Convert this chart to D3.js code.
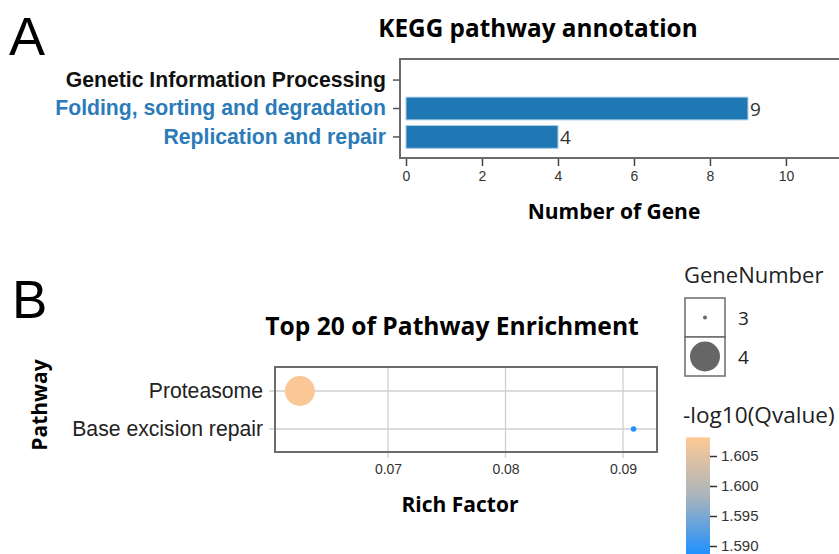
<!DOCTYPE html>
<html>
<head>
<meta charset="utf-8">
<script src="https://cdn.jsdelivr.net/npm/d3@7"></script>
<style>
  body { margin: 0; background: #fff; }
  svg { display: block; }
</style>
</head>
<body>
<svg id="svg" width="839" height="554"></svg>
<script>
// panel A data
var keggCats = ["Genetic Information Processing", "Folding, sorting and degradation", "Replication and repair"];
var keggCounts = [null, 9, 4];
var keggColors = ["#111", "#2b7bb9", "#2b7bb9"];
var keggTicks = [0, 2, 4, 6, 8, 10];

// panel B data
var pathNames = ["Proteasome", "Base excision repair"];
var richFactor = [0.0625, 0.0909];
var geneNumber = [4, 3];
var qLog = [1.6075, 1.5885];
var richTicks = [0.07, 0.08, 0.09];
var sizeLegend = [3, 4];
var colorTicks = [1.605, 1.600, 1.595, 1.590];

var svg = d3.select("#svg");
var titleFont = "'Open Sans', 'Noto Sans', sans-serif";
var arial = "'Liberation Sans', Arial, sans-serif";

function panelA() {
  svg.append("text").attr("x", 9).attr("y", 55).text("A")
    .style("font-family", arial).style("font-size", "54px").attr("fill", "#000");

  svg.append("text").attr("x", 538).attr("y", 37).attr("text-anchor", "middle")
    .text("KEGG pathway annotation")
    .style("font-family", titleFont).style("font-weight", "bold").style("font-size", "24.3px");

  var xA = d3.scaleLinear().domain([0, 11.37]).range([406, 838]);
  var yA = d3.scaleBand().domain(keggCats).range([63, 154]).padding(0.2);

  svg.append("rect").attr("x", 400).attr("y", 59).attr("width", 440).attr("height", 99)
    .attr("fill", "none").attr("stroke", "#6b6b6b").attr("stroke-width", 2);

  keggCats.forEach((c, i) => {
    if (keggCounts[i] != null) {
      svg.append("rect")
        .attr("x", xA(0)).attr("y", yA(c))
        .attr("width", xA(keggCounts[i]) - xA(0)).attr("height", yA.bandwidth())
        .attr("fill", "#1f77b4").attr("stroke", "#a9cbe6").attr("stroke-width", 1);
      svg.append("text")
        .attr("x", xA(keggCounts[i]) + 2).attr("y", yA(c) + yA.bandwidth() / 2 + 7)
        .text(keggCounts[i])
        .style("font-family", titleFont).style("font-size", "19px").attr("fill", "#333");
    }
  });

  var yAxisA = svg.append("g").attr("transform", "translate(400,0)")
    .call(d3.axisLeft(yA).tickSize(7).tickPadding(7));
  yAxisA.select(".domain").remove();
  yAxisA.selectAll("line").attr("stroke", "#555").attr("stroke-width", 1.5);
  yAxisA.selectAll("text")
    .style("font-family", arial).style("font-weight", "bold").style("font-size", "21.2px")
    .attr("fill", (d, i) => keggColors[i]);

  var xAxisA = svg.append("g").attr("transform", "translate(0,159)")
    .call(d3.axisBottom(xA).tickValues(keggTicks).tickSize(7).tickPadding(5));
  xAxisA.select(".domain").remove();
  xAxisA.selectAll("line").attr("stroke", "#444").attr("stroke-width", 1.5);
  xAxisA.selectAll("text").style("font-family", arial).style("font-size", "14px").attr("fill", "#333");

  svg.append("text").attr("x", 614).attr("y", 219).attr("text-anchor", "middle")
    .text("Number of Gene")
    .style("font-family", titleFont).style("font-weight", "bold").style("font-size", "21px");
}

function panelB() {
  svg.append("text").attr("x", 12).attr("y", 318).text("B")
    .style("font-family", arial).style("font-size", "53px").attr("fill", "#000");

  svg.append("text").attr("x", 452).attr("y", 335).attr("text-anchor", "middle")
    .text("Top 20 of Pathway Enrichment")
    .style("font-family", titleFont).style("font-weight", "bold").style("font-size", "24.6px");

  svg.append("text").attr("transform", "translate(47,405) rotate(-90)").attr("text-anchor", "middle")
    .text("Pathway")
    .style("font-family", titleFont).style("font-weight", "bold").style("font-size", "21px");

  var xB = d3.scaleLinear().domain([0.07, 0.09]).range([388, 623]);
  var yB = d3.scalePoint().domain(pathNames).range([391, 429]);
  var rB = d3.scaleLinear().domain([3, 4]).range([2.8, 15]);
  var cB = d3.scaleLinear().domain([1.5885, 1.5983, 1.6081]).range(["#1e90ff", "#a9b4bc", "#fec994"]);

  var bL = 275, bT = 367, bR = 657, bB = 452;

  // grid
  richTicks.forEach(t => {
    svg.append("line").attr("x1", xB(t)).attr("x2", xB(t)).attr("y1", bT).attr("y2", bB + 6)
      .attr("stroke", "#cfcfcf").attr("stroke-width", 1.3);
  });
  pathNames.forEach(p => {
    svg.append("line").attr("x1", bL - 6).attr("x2", bR).attr("y1", yB(p)).attr("y2", yB(p))
      .attr("stroke", "#cfcfcf").attr("stroke-width", 1.3);
  });

  svg.append("rect").attr("x", bL).attr("y", bT).attr("width", bR - bL).attr("height", bB - bT)
    .attr("fill", "none").attr("stroke", "#6b6b6b").attr("stroke-width", 2);

  pathNames.forEach((p, i) => {
    svg.append("circle").attr("cx", xB(richFactor[i])).attr("cy", yB(p))
      .attr("r", rB(geneNumber[i])).attr("fill", cB(qLog[i]));
  });

  var yAxisB = svg.append("g").attr("transform", "translate(" + bL + ",0)")
    .call(d3.axisLeft(yB).tickSize(0).tickPadding(12));
  yAxisB.select(".domain").remove();
  yAxisB.selectAll("text").style("font-family", arial).style("font-size", "21.2px").attr("fill", "#222");

  var xAxisB = svg.append("g").attr("transform", "translate(0," + bB + ")")
    .call(d3.axisBottom(xB).tickValues(richTicks).tickSize(0).tickPadding(12).tickFormat(d3.format(".2f")));
  xAxisB.select(".domain").remove();
  xAxisB.selectAll("text").style("font-family", arial).style("font-size", "14px").attr("fill", "#333");

  svg.append("text").attr("x", 460).attr("y", 512).attr("text-anchor", "middle")
    .text("Rich Factor")
    .style("font-family", titleFont).style("font-weight", "bold").style("font-size", "21px");

  ///// legends
  svg.append("text").attr("x", 684).attr("y", 283).text("GeneNumber")
    .style("font-family", titleFont).style("font-size", "22px").attr("fill", "#222");

  var legY = d3.scaleBand().domain(sizeLegend).range([298, 376]);
  sizeLegend.forEach(v => {
    svg.append("rect").attr("x", 685).attr("y", legY(v)).attr("width", 40).attr("height", legY.bandwidth())
      .attr("fill", "#fff").attr("stroke", "#6b6b6b").attr("stroke-width", 1.5);
    svg.append("circle").attr("cx", 705).attr("cy", legY(v) + legY.bandwidth() / 2)
      .attr("r", rB(v) * (v === 3 ? 0.7 : 1)).attr("fill", "#666");
    svg.append("text").attr("x", 738).attr("y", legY(v) + legY.bandwidth() / 2 + 7).text(v)
      .style("font-family", titleFont).style("font-size", "19px").attr("fill", "#222");
  });

  svg.append("text").attr("x", 683).attr("y", 423).text("-log10(Qvalue)")
    .style("font-family", titleFont).style("font-size", "22.6px").attr("fill", "#222");

  var cbY = d3.scaleLinear().domain([1.590, 1.605]).range([546, 456]);
  var grad = svg.append("defs").append("linearGradient").attr("id", "cbar")
    .attr("x1", 0).attr("y1", 1).attr("x2", 0).attr("y2", 0);
  [0, 0.5, 1].forEach(f => {
    var v = 1.5885 + f * (1.6081 - 1.5885);
    grad.append("stop").attr("offset", f).attr("stop-color", cB(v));
  });
  svg.append("rect").attr("x", 686).attr("y", cbY(1.6081)).attr("width", 24)
    .attr("height", cbY(1.5885) - cbY(1.6081)).attr("fill", "url(#cbar)");

  var cAxis = svg.append("g").attr("transform", "translate(710,0)")
    .call(d3.axisRight(cbY).tickValues(colorTicks).tickSize(7).tickPadding(4).tickFormat(d3.format(".3f")));
  cAxis.select(".domain").remove();
  cAxis.selectAll("line").attr("stroke", "#333").attr("stroke-width", 1.5);
  cAxis.selectAll("text").style("font-family", arial).style("font-size", "15px").attr("fill", "#333");
}

panelA();
panelB();
</script>
</body>
</html>
